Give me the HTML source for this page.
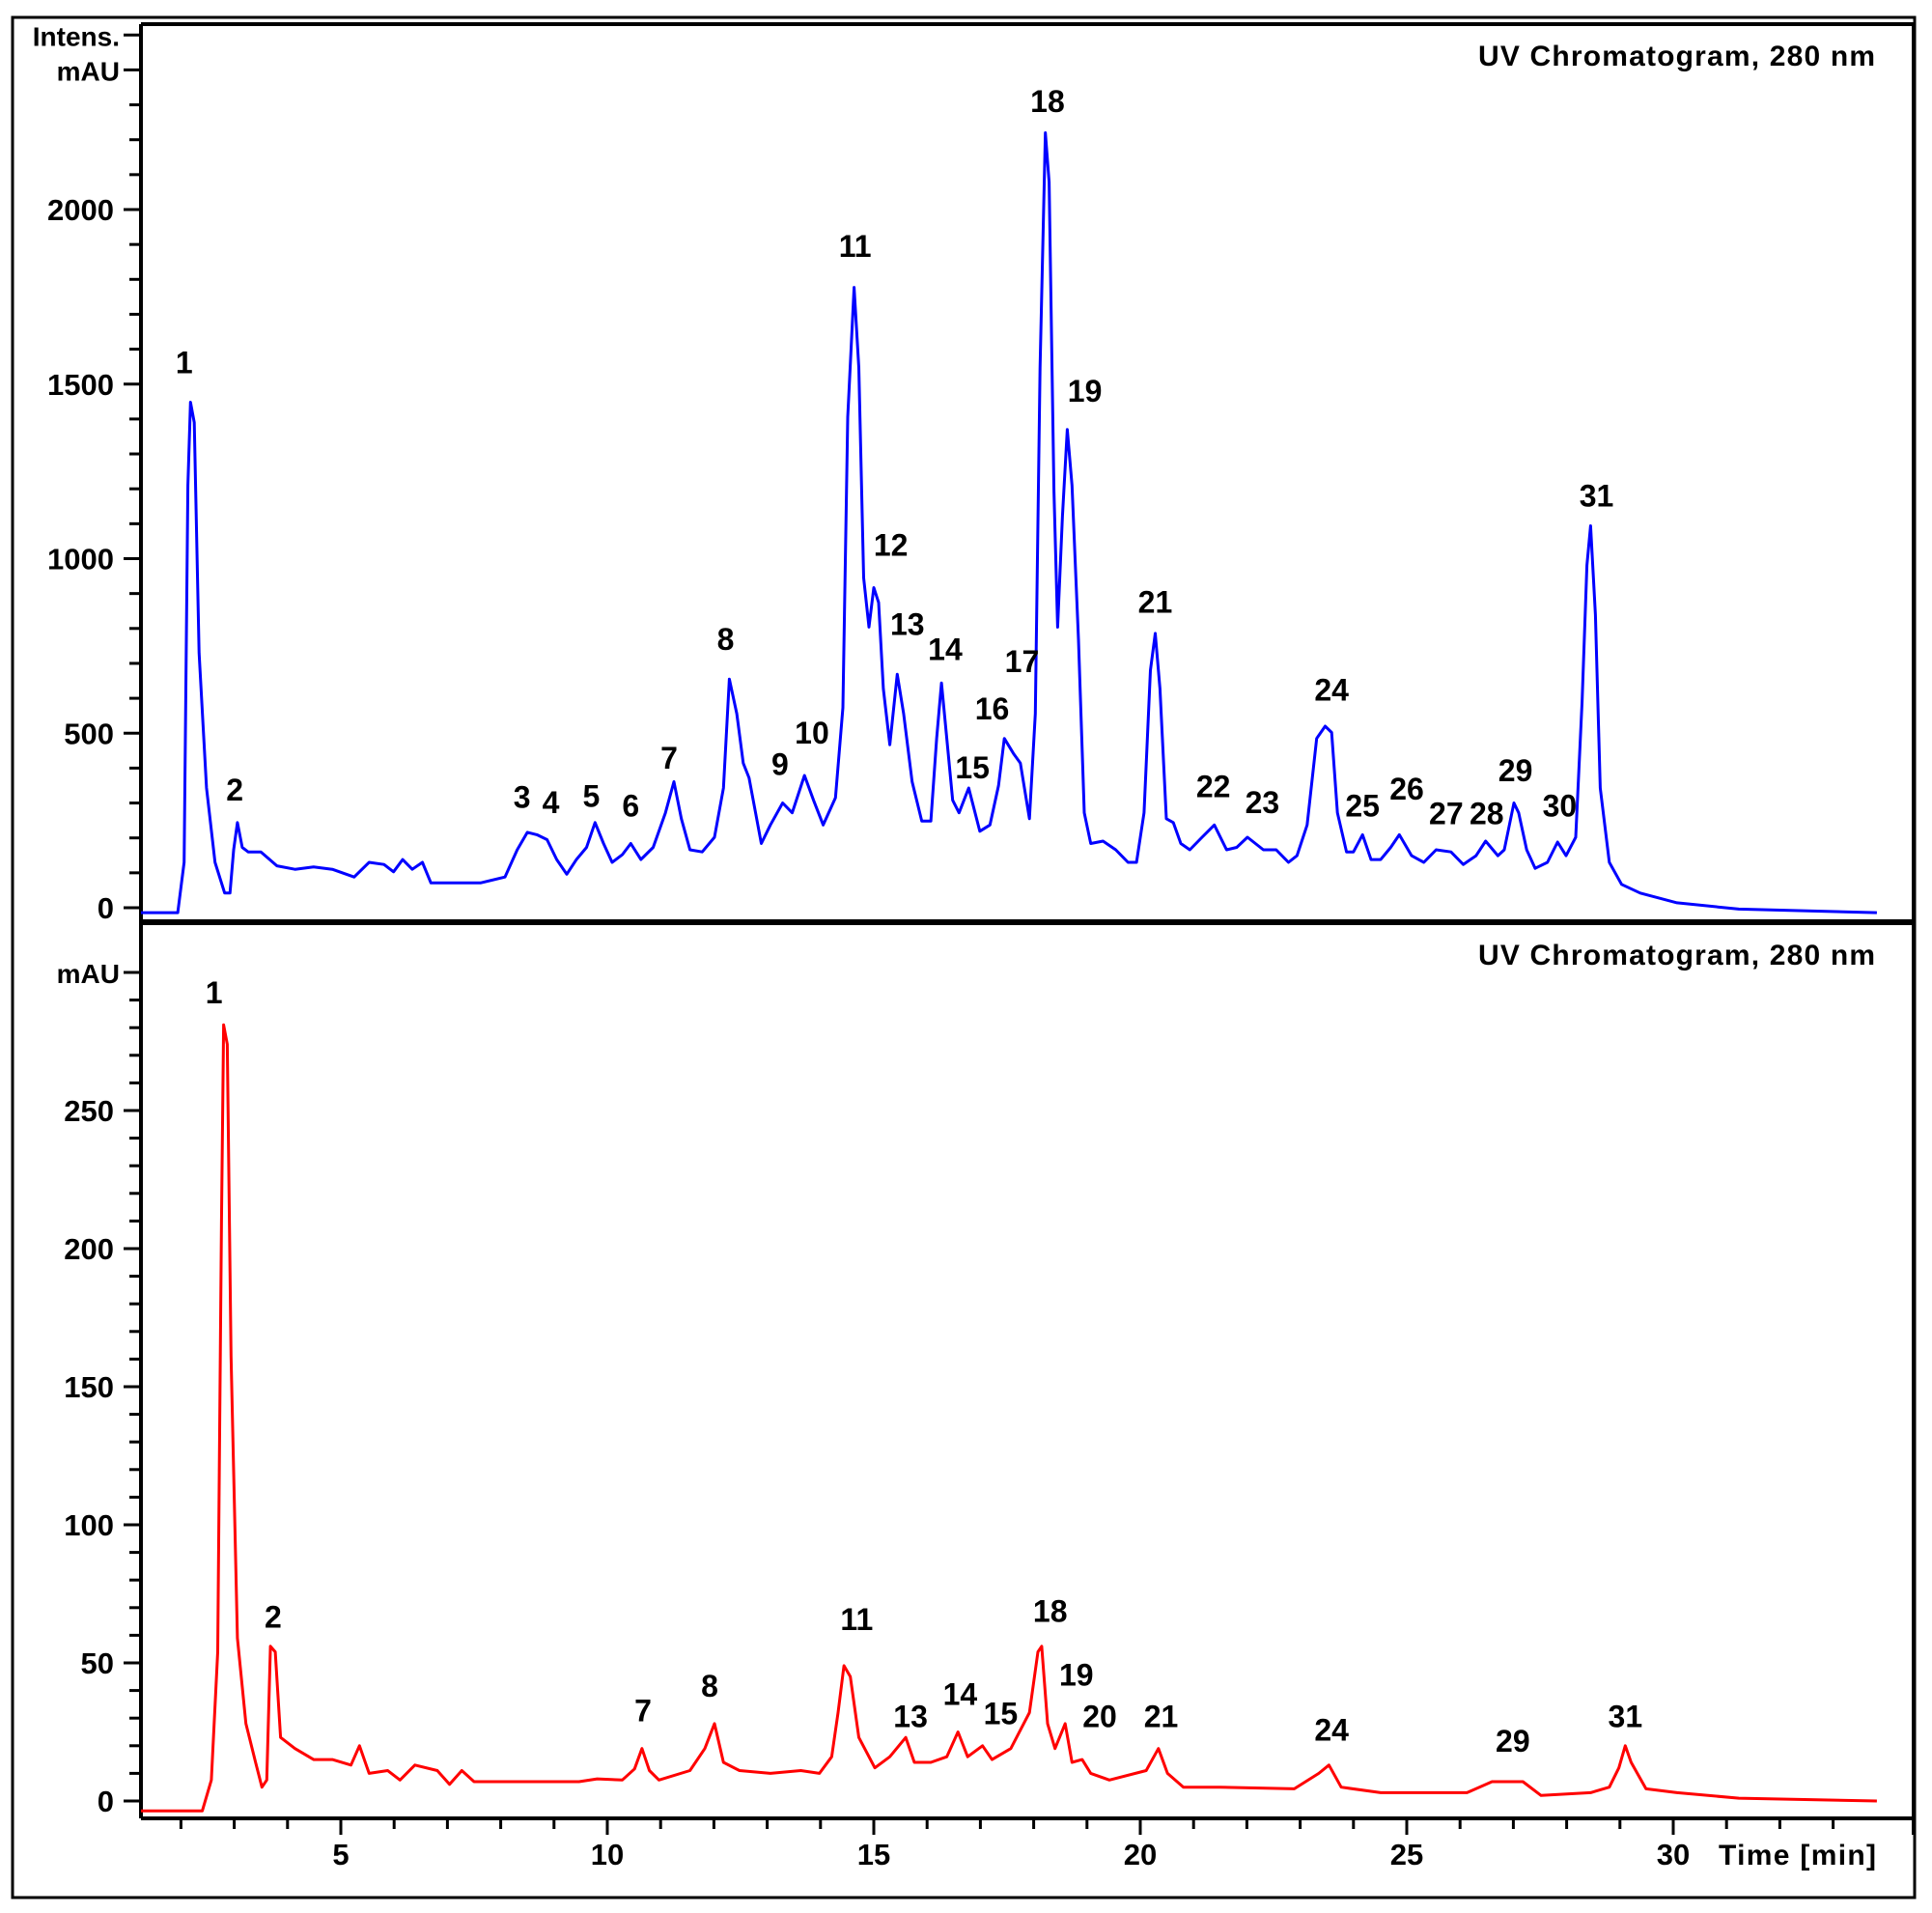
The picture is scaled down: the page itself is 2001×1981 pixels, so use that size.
<!DOCTYPE html>
<html><head><meta charset="utf-8"><style>
html,body{margin:0;padding:0;background:#fff;}
svg{display:block;font-family:"Liberation Sans",sans-serif;font-weight:bold;}
</style></head><body>
<svg id="chart" width="2001" height="1981" viewBox="0 0 2001 1981" xmlns="http://www.w3.org/2000/svg">
<rect x="13" y="18" width="1970" height="1947" fill="none" stroke="#000" stroke-width="3"/>
<g id="axes"></g>
<g id="traces"></g>
<g id="labels"></g>
</svg>
<script>
// Upper trace (time min, intensity mAU)
const upperTimes=[1.25,1.94,2.06,2.13,2.18,2.25,2.34,2.48,2.64,2.82,2.92,2.99,3.06,3.15,3.26,3.5,3.8,4.14,4.49,4.84,5.25,5.53,5.81,5.99,6.16,6.34,6.53,6.69,7.62,8.08,8.31,8.5,8.68,8.87,9.05,9.24,9.42,9.61,9.77,9.93,10.09,10.28,10.44,10.63,10.86,11.09,11.25,11.39,11.55,11.78,12.01,12.18,12.29,12.43,12.55,12.66,12.89,13.06,13.29,13.47,13.7,13.87,14.05,14.28,14.42,14.51,14.63,14.72,14.81,14.91,15.0,15.09,15.18,15.3,15.44,15.56,15.72,15.9,16.07,16.18,16.27,16.37,16.48,16.6,16.78,16.99,17.18,17.34,17.45,17.62,17.75,17.92,18.03,18.12,18.22,18.29,18.38,18.45,18.54,18.63,18.72,18.84,18.95,19.07,19.3,19.54,19.77,19.93,20.07,20.19,20.28,20.37,20.49,20.62,20.76,20.93,21.16,21.39,21.62,21.81,22.01,22.31,22.55,22.78,22.94,23.13,23.31,23.47,23.59,23.7,23.87,24.0,24.17,24.33,24.51,24.7,24.86,25.09,25.32,25.55,25.83,26.06,26.3,26.48,26.71,26.83,27.01,27.1,27.25,27.41,27.64,27.83,27.99,28.17,28.29,28.38,28.45,28.54,28.63,28.8,29.03,29.38,30.07,31.23,33.82];
const upperValues=[-14,-14,130,1210,1448,1390,730,343,130,42,42,166,244,173,160,160,120,110,117,110,88,130,124,103,138,110,130,71,71,88,166,216,209,195,138,96,138,173,244,184,130,152,184,138,173,272,361,255,166,160,202,343,655,556,414,372,184,237,300,272,379,308,237,315,573,1405,1777,1547,945,804,917,874,627,467,669,556,361,248,248,485,644,485,308,272,343,219,237,350,485,442,414,255,556,1547,2220,2078,1193,804,1122,1370,1210,768,272,184,191,166,130,130,272,680,786,627,255,244,184,166,202,237,166,173,202,166,166,130,149,237,485,520,502,272,160,160,209,138,138,173,209,149,130,166,160,124,149,191,149,166,300,272,166,113,130,188,149,202,591,981,1094,839,343,130,67,42,14,-4,-14];
// Lower trace
const lowerTimes=[1.25,2.4,2.57,2.69,2.76,2.8,2.87,2.94,3.06,3.22,3.4,3.52,3.61,3.68,3.77,3.87,4.14,4.49,4.84,5.19,5.35,5.53,5.88,6.11,6.39,6.81,7.04,7.27,7.5,9.47,9.81,10.28,10.51,10.65,10.79,10.97,11.55,11.83,12.01,12.18,12.48,13.06,13.63,13.98,14.21,14.33,14.44,14.56,14.72,15.02,15.3,15.6,15.76,16.07,16.37,16.58,16.76,17.04,17.22,17.57,17.92,18.08,18.15,18.26,18.4,18.59,18.72,18.91,19.07,19.42,20.11,20.34,20.51,20.81,21.5,22.89,23.35,23.54,23.77,24.51,26.13,26.6,27.18,27.52,28.45,28.8,28.98,29.1,29.21,29.49,30.07,31.23,33.82];
const lowerValues=[-3.6,-3.6,7.6,54,210,281,274,161,59,28,14,5,7.6,56,54,23,19,15,15,13,20,10,11,7.6,13,11,6,11,7,7,8,7.6,11.6,19,11,7.6,11,19,28,14,11,10,11,10,16,32,49,45,23,12,16,23,14,14,16,25,16,20,15,19,32,54,56,28,19,28,14,15,10,7.6,11,19,10,5,5,4.4,10,13,5,3,3,7,7,2,3,5,12,20,14,4.4,3,1,0];
// Peak labels
const upperLabels=["1","2","3","4","5","6","7","8","9","10","11","12","13","14","15","16","17","18","19","21","22","23","24","25","26","27","28","29","30","31"];
const upperLabelT=[2.06,3.01,8.40,8.94,9.70,10.44,11.16,12.22,13.24,13.84,14.65,15.32,15.63,16.34,16.85,17.22,17.78,18.26,18.96,20.28,21.37,22.29,23.59,24.17,25.00,25.74,26.50,27.04,27.87,28.56];
const upperLabelV=[1565,340,319,304,322,294,432,772,414,503,1897,1041,814,743,404,573,708,2312,1483,878,350,304,627,294,343,273,273,396,294,1182];
const lowerLabels=["1","2","7","8","11","13","14","15","18","19","20","21","24","29","31"];
const lowerLabelT=[2.62,3.73,10.67,11.92,14.68,15.69,16.62,17.38,18.31,18.80,19.24,20.39,23.59,26.99,29.10];
const lowerLabelV=[293,67,33,42,66,31,39,32,69,46,31,31,26,22,31];
// Axis ticks
const xTickLabels=[5,10,15,20,25,30];
const upperYTickLabels=[0,500,1000,1500,2000];
const lowerYTickLabels=[0,50,100,150,200,250];

const NS="http://www.w3.org/2000/svg";
const X0=146,X1=1982;
function xs(t){return 77+55.2*t;}
function yu(v){return 940-v*0.3615;}
function yl(v){return 1865-v*2.86;}
function mk(tag,attrs,parent){const e=document.createElementNS(NS,tag);for(const k in attrs)e.setAttribute(k,attrs[k]);parent.appendChild(e);return e;}
const axes=document.getElementById('axes'),traces=document.getElementById('traces'),labels=document.getElementById('labels');

let e;
e=mk('line',{x1:X0,y1:25,x2:X0,y2:1883,stroke:'#000','stroke-width':4},axes);


e=mk('line',{x1:X0,y1:25,x2:X1,y2:25,stroke:'#000','stroke-width':4},axes);


e=mk('line',{x1:X1,y1:25,x2:X1,y2:1900,stroke:'#000','stroke-width':4},axes);


e=mk('line',{x1:X0,y1:955,x2:X1,y2:955,stroke:'#000','stroke-width':6},axes);


e=mk('line',{x1:X0,y1:1883,x2:X1,y2:1883,stroke:'#000','stroke-width':4},axes);



for(let v=0;v<=2500;v+=100){
  const major=v%500===0||v>=2400;
  e=mk('line',{x1:major?128:134,y1:yu(v),x2:X0,y2:yu(v),stroke:'#000','stroke-width':3},axes);
  
  
}
upperYTickLabels.forEach(v=>{
  e=mk('text',{x:118,y:yu(v)+11,'text-anchor':'end','font-size':31},axes);e.textContent=v;
  
  
});
e=mk('text',{x:124,y:yu(2500)+11,'text-anchor':'end','font-size':28},axes);e.textContent='Intens.';


e=mk('text',{x:124,y:yu(2400)+11,'text-anchor':'end','font-size':28},axes);e.textContent='mAU';



for(let v=0;v<=300;v+=10){
  const major=v%50===0;
  e=mk('line',{x1:major?128:134,y1:yl(v),x2:X0,y2:yl(v),stroke:'#000','stroke-width':3},axes);
  
  
}
lowerYTickLabels.forEach(v=>{
  e=mk('text',{x:118,y:yl(v)+11,'text-anchor':'end','font-size':31},axes);e.textContent=v;
  
  
});
e=mk('text',{x:124,y:yl(300)+11,'text-anchor':'end','font-size':28},axes);e.textContent='mAU';



for(let t=2;t<=33;t++){
  e=mk('line',{x1:xs(t),y1:1883,x2:xs(t),y2:t%5===0?1900:1894,stroke:'#000','stroke-width':3},axes);
  
  
}
xTickLabels.forEach(t=>{
  e=mk('text',{x:xs(t),y:1931,'text-anchor':'middle','font-size':31},axes);e.textContent=t;
  
  
});
e=mk('text',{x:1780,y:1931,'font-size':30,textLength:163},axes);e.textContent='Time [min]';



e=mk('text',{x:1531,y:68,'font-size':30,textLength:411},axes);e.textContent='UV Chromatogram, 280 nm';


e=mk('text',{x:1531,y:999,'font-size':30,textLength:411},axes);e.textContent='UV Chromatogram, 280 nm';



function pts(ts,vs,yf){return ts.map((t,i)=>xs(t).toFixed(1)+','+yf(vs[i]).toFixed(1)).join(' ');}
e=mk('polyline',{points:pts(upperTimes,upperValues,yu),fill:'none',stroke:'#0000ff','stroke-width':3,'stroke-linejoin':'round'},traces);


e=mk('polyline',{points:pts(lowerTimes,lowerValues,yl),fill:'none',stroke:'#ff0000','stroke-width':3,'stroke-linejoin':'round'},traces);



upperLabels.forEach((s,i)=>{
  e=mk('text',{x:xs(upperLabelT[i]),y:yu(upperLabelV[i])+12,'text-anchor':'middle','font-size':32},labels);e.textContent=s;
  
  
});
lowerLabels.forEach((s,i)=>{
  e=mk('text',{x:xs(lowerLabelT[i]),y:yl(lowerLabelV[i])+12,'text-anchor':'middle','font-size':32},labels);e.textContent=s;
  
  
});
</script>
</body></html>
